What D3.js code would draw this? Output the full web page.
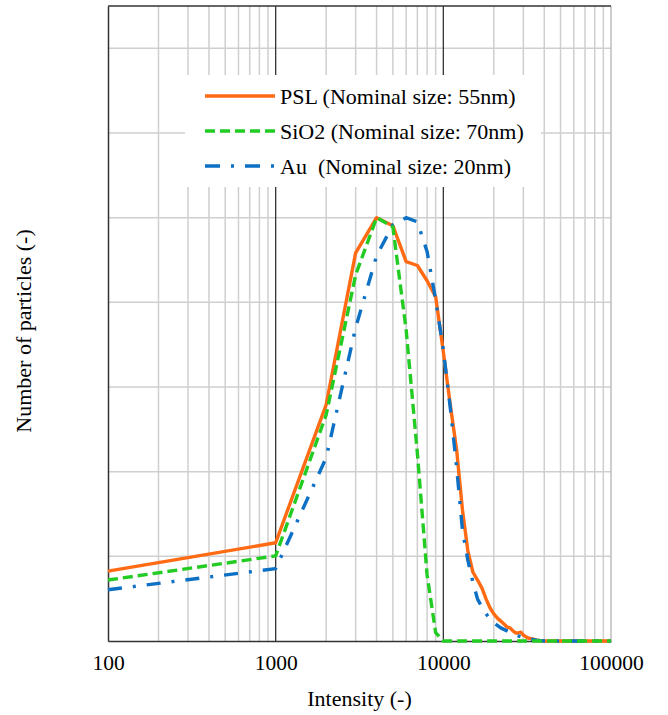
<!DOCTYPE html>
<html>
<head>
<meta charset="utf-8">
<script src="https://cdn.jsdelivr.net/npm/d3@7"></script>
<style>
  html, body { margin: 0; padding: 0; background: #fff; }
  svg { display: block; }
  svg text { font-family: "Liberation Serif", "DejaVu Serif", "Times New Roman", Times, serif !important; fill: #000; }
</style>
</head>
<body>
<svg id="chart" width="668" height="715"></svg>
<script>
// ---- Data ----
const xTickLabels = [100, 1000, 10000, 100000];
const yGridValues = [0.2, 0.4, 0.6, 0.8, 1.0, 1.2, 1.4];

const seriesNames = ["PSL (Nominal size: 55nm)", "SiO2 (Nominal size: 70nm)", "Au\u00a0 (Nominal size: 20nm)"];

const pslIntensity = [100, 1000, 2000, 3000, 4000, 5000, 6000, 7000, 8000, 9000, 10000,
  11000, 12000, 13000, 14000, 15000, 16000, 17000, 18000, 19000, 20000,
  21000, 22000, 23000, 24000, 25000, 26000, 27000, 28000, 29000, 30000,
  32000, 34000, 36000, 38000, 40000, 100000];
const pslCount = [0.165, 0.232, 0.558, 0.917, 1.000, 0.981, 0.896, 0.887, 0.851, 0.813, 0.683,
  0.558, 0.452, 0.310, 0.213, 0.163, 0.144, 0.125, 0.099, 0.078, 0.064,
  0.054, 0.047, 0.040, 0.033, 0.031, 0.024, 0.019, 0.019, 0.021, 0.014,
  0.007, 0.005, 0.002, 0.001, 0.000, 0.000];

const sio2Intensity = [100, 1000, 2000, 3000, 4000, 5000, 6000, 7000, 8000, 9000, 10000, 100000];
const sio2Count = [0.144, 0.201, 0.534, 0.865, 1.000, 0.978, 0.735, 0.444, 0.156, 0.020, 0.000, 0.000];

const auIntensity = [100, 1000, 2000, 3000, 4000, 5000, 6000, 7000, 8000, 9000, 10000,
  11000, 12000, 13000, 14000, 15000, 16000, 17000, 18000, 19000, 20000,
  22000, 24000, 26000, 28000, 30000, 32000, 34000, 36000, 38000, 40000, 100000];
const auCount = [0.121, 0.171, 0.433, 0.740, 0.910, 0.983, 1.000, 0.990, 0.920, 0.806, 0.688,
  0.551, 0.411, 0.262, 0.191, 0.139, 0.099, 0.080, 0.064, 0.052, 0.043,
  0.031, 0.024, 0.017, 0.012, 0.008, 0.006, 0.004, 0.002, 0.001, 0.000, 0.000];

const seriesColors = ["#FF6A13", "#22CC22", "#0C70C4"];
const seriesDash = [null, "10,5", "14,11,3,11"];

// ---- Layout ----
const svg = d3.select("#chart");
const L = 108, R = 611, T = 6, B = 641;
const FONT = "'Liberation Serif', 'DejaVu Serif', 'Times New Roman', serif";

const x = d3.scaleLog().domain([100, 100000]).range([L, R]);
const y = d3.scaleLinear().domain([0, 1.5]).range([B, T]);

// minor vertical grid
const minorX = [];
[100, 1000, 10000].forEach(d => { for (let k = 2; k <= 9; k++) minorX.push(d * k); });

const grid = svg.append("g");
grid.selectAll("line.minx").data(minorX).join("line")
  .attr("x1", d => x(d)).attr("x2", d => x(d)).attr("y1", T).attr("y2", B)
  .attr("stroke", "#cfcfcf").attr("stroke-width", 1.5);
grid.selectAll("line.gy").data(yGridValues).join("line")
  .attr("x1", L).attr("x2", R).attr("y1", d => y(d)).attr("y2", d => y(d))
  .attr("stroke", "#cfcfcf").attr("stroke-width", 1.5);
// right edge
grid.append("line").attr("x1", x(100000)).attr("x2", x(100000)).attr("y1", T).attr("y2", B)
  .attr("stroke", "#bdbdbd").attr("stroke-width", 1.5);
// major vertical lines
grid.selectAll("line.maj").data([1000, 10000]).join("line")
  .attr("x1", d => x(d)).attr("x2", d => x(d)).attr("y1", T).attr("y2", B)
  .attr("stroke", "#333").attr("stroke-width", 1.3);
// top border
grid.append("line").attr("x1", L).attr("x2", R).attr("y1", T).attr("y2", T)
  .attr("stroke", "#333").attr("stroke-width", 1.5);

// axes
const xAxis = d3.axisBottom(x).tickValues(xTickLabels).tickSize(0).tickPadding(14)
  .tickFormat(d3.format("d"));
const gx = svg.append("g").attr("transform", `translate(0,${B})`).call(xAxis)
  .attr("font-family", FONT).attr("font-size", 21);
gx.select(".domain").attr("stroke", "#333").attr("stroke-width", 1.5);
gx.selectAll("text").style("font-family", FONT).style("font-size", "21.5px").attr("fill", "#000");

const yAxis = d3.axisLeft(y).tickValues([]).tickSize(0);
const gy = svg.append("g").attr("transform", `translate(${L},0)`).call(yAxis);
gy.select(".domain").attr("stroke", "#333").attr("stroke-width", 1.5);

// legend background
const legX = 185, legY = 75, legW = 356, legH = 112;
svg.append("rect").attr("x", legX).attr("y", legY).attr("width", legW).attr("height", legH).attr("fill", "#fff");

// lines
const line = d3.line().x(d => x(d[0])).y(d => y(d[1]));
const data = [
  d3.zip(pslIntensity, pslCount),
  d3.zip(sio2Intensity, sio2Count),
  d3.zip(auIntensity, auCount)
];
const drawOrder = [0, 2, 1];
drawOrder.forEach(i => {
  svg.append("path").datum(data[i]).attr("d", line)
    .attr("fill", "none").attr("stroke", seriesColors[i]).attr("stroke-width", 3.4)
    .attr("stroke-linejoin", "round")
    .attr("stroke-dasharray", seriesDash[i]);
});

// legend
const leg = svg.append("g");
const rowY = [96, 131, 166];
seriesNames.forEach((name, i) => {
  leg.append("line").attr("x1", 205).attr("x2", 275).attr("y1", rowY[i]).attr("y2", rowY[i])
    .attr("stroke", seriesColors[i]).attr("stroke-width", 3.4)
    .attr("stroke-dasharray", i === 2 ? "15,11,3,11" : seriesDash[i]);
  leg.append("text").attr("x", 280).attr("y", rowY[i] + 7.5)
    .style("font-family", FONT).style("font-size", "22px").style("white-space", "pre").text(name);
});

// axis titles
svg.append("text").attr("x", (L + R) / 2).attr("y", 706).attr("text-anchor", "middle")
  .style("font-family", FONT).style("font-size", "22px").text("Intensity (-)");
svg.append("text").attr("transform", "translate(31,331) rotate(-90)").attr("text-anchor", "middle")
  .style("font-family", FONT).style("font-size", "22px").text("Number of particles (-)");
</script>
</body>
</html>
